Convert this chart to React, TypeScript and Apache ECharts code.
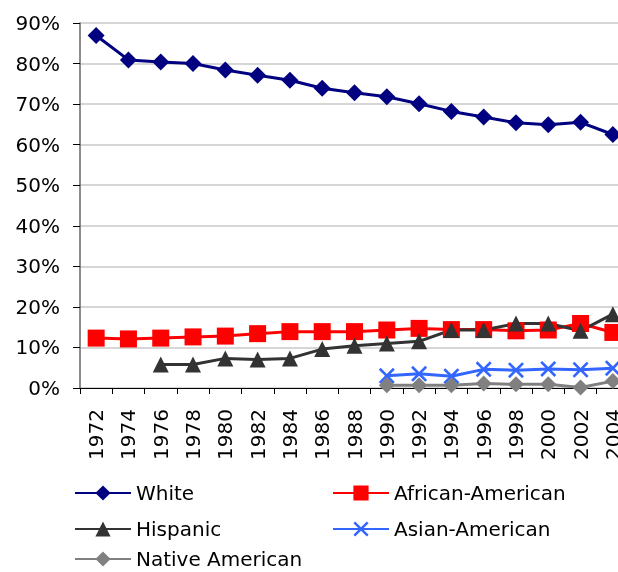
import React, { useEffect, useRef } from "react";
import * as echarts from "echarts";

const years = ["1972","1974","1976","1978","1980","1982","1984","1986","1988","1990","1992","1994","1996","1998","2000","2002","2004"];
const white = [86.9,80.9,80.4,80.0,78.4,77.1,75.9,73.9,72.8,71.8,70.1,68.2,66.8,65.4,64.9,65.5,62.5];
const africanAmerican = [12.3,12.1,12.3,12.6,12.8,13.4,13.9,13.9,13.9,14.3,14.7,14.4,14.4,14.1,14.3,15.9,13.7];
const hispanic = [null,null,5.8,5.8,7.3,7.0,7.3,9.6,10.4,11.0,11.5,14.3,14.3,15.9,15.9,14.1,18.2];
const asianAmerican = [null,null,null,null,null,null,null,null,null,3.0,3.5,2.9,4.6,4.4,4.7,4.5,4.9];
const nativeAmerican = [null,null,null,null,null,null,null,null,null,0.7,0.7,0.7,1.1,0.9,0.9,0.1,1.7];
const yTicks = [0,10,20,30,40,50,60,70,80,90];

const FONT = "DejaVu Sans";
const crossPath = "path://M0,1.4L1.4,0L6,4.6L10.6,0L12,1.4L7.4,6L12,10.6L10.6,12L6,7.4L1.4,12L0,10.6L4.6,6Z";

export default function App() {
  const ref = useRef<HTMLDivElement>(null);
  useEffect(() => {
    const chart = echarts.init(ref.current!, null, { renderer: "svg" });
    const mk = (name: string, data: any[], color: string, symbol: string, size: number) => ({
      name, type: "line", data, animation: false,
      symbol, symbolSize: size, connectNulls: false,
      lineStyle: { color, width: 3 },
      itemStyle: { color },
    });
    const leg = (name: string, left: number, top: number) => ({
      data: [name], orient: "horizontal", left, top,
      itemWidth: 56, itemHeight: 19, itemGap: 0, padding: 0,
      textStyle: { fontSize: 20, color: "#000", fontFamily: FONT, lineHeight: 20 },
    });
    chart.setOption({
      animation: false,
      textStyle: { fontFamily: FONT },
      grid: { left: 80, width: 549, top: 23, height: 365, outerBoundsMode: "none", containLabel: false },
      xAxis: {
        type: "category", data: years, boundaryGap: true,
        axisLine: { lineStyle: { color: "#000", width: 1 } },
        axisTick: { show: true, length: 6, interval: 0, lineStyle: { color: "#000" } },
        axisLabel: { rotate: 90, interval: 0, fontSize: 20, color: "#000", fontFamily: FONT, margin: 21 },
      },
      yAxis: {
        type: "value", min: 0, max: 90, interval: 10,
        axisLine: { show: true, lineStyle: { color: "#666", width: 1.5 } },
        axisTick: { show: true, length: 7, lineStyle: { color: "#000" } },
        splitLine: { lineStyle: { color: "#c8c8c8", width: 1.5 } },
        axisLabel: { fontSize: 20, color: "#000", fontFamily: FONT, margin: 20,
          formatter: (v: number) => (yTicks.includes(v) ? v + "%" : "") },
      },
      legend: [
        leg("White", 74, 483),
        leg("Hispanic", 74, 519),
        leg("Native American", 74, 549),
        leg("African-American", 332, 483),
        leg("Asian-American", 332, 519),
      ],
      series: [
        mk("White", white, "#000080", "diamond", 17),
        mk("African-American", africanAmerican, "#ff0000", "rect", 17),
        mk("Hispanic", hispanic, "#333333", "triangle", 16),
        mk("Asian-American", asianAmerican, "#3366ff", crossPath, 16),
        mk("Native American", nativeAmerican, "#808080", "diamond", 16),
      ],
    });
    return () => chart.dispose();
  }, []);
  return <div ref={ref} style={{ position: "fixed", left: 0, top: 0, width: 618, height: 572 }} />;
}
